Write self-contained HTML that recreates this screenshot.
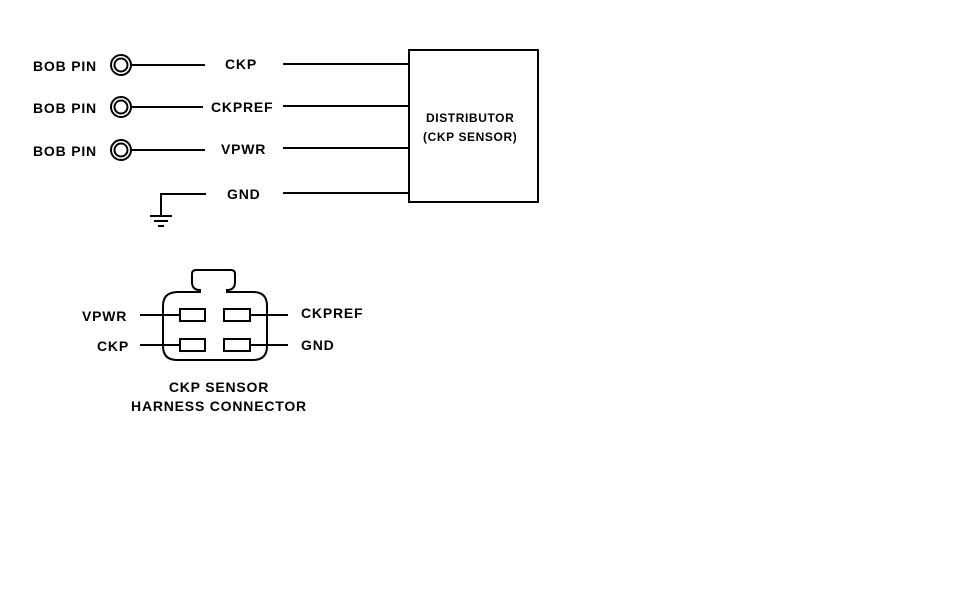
<!DOCTYPE html>
<html><head><style>body{margin:0;background:#fff}svg{display:block}</style></head><body>
<svg width="962" height="612" viewBox="0 0 962 612" xmlns="http://www.w3.org/2000/svg" font-family="Liberation Sans, sans-serif" font-weight="bold" font-size="13" fill="#000">
<g stroke="#000" stroke-width="2" fill="none">
<rect x="409" y="50" width="129" height="152"/>
<circle cx="121" cy="65" r="10"/><circle cx="121" cy="65" r="6.5"/>
<circle cx="121" cy="107" r="10"/><circle cx="121" cy="107" r="6.5"/>
<circle cx="121" cy="150" r="10"/><circle cx="121" cy="150" r="6.5"/>
<line x1="131" y1="65" x2="205" y2="65"/><line x1="283" y1="64" x2="409" y2="64"/>
<line x1="131" y1="107" x2="203" y2="107"/><line x1="283" y1="106" x2="409" y2="106"/>
<line x1="131" y1="150" x2="205" y2="150"/><line x1="283" y1="148" x2="409" y2="148"/>
<polyline points="206,194 161,194 161,216"/><line x1="283" y1="193" x2="409" y2="193"/>
<line x1="150" y1="216" x2="172" y2="216"/><line x1="154" y1="221" x2="168" y2="221"/><line x1="158" y1="226" x2="164" y2="226"/>
<path d="M178,292 H200 V290 Q192,290 192,282 V274 Q192,270 196,270 H231 Q235,270 235,274 V282 Q235,290 227,290 V292 H253 Q267,292 267,306 V346 Q267,360 253,360 H177 Q163,360 163,346 V306 Q163,292 178,292 Z"/>
<rect x="180" y="309" width="25" height="12"/><rect x="224" y="309" width="26" height="12"/>
<rect x="180" y="339" width="25" height="12"/><rect x="224" y="339" width="26" height="12"/>
<line x1="140" y1="315" x2="180" y2="315"/><line x1="140" y1="345" x2="180" y2="345"/>
<line x1="250" y1="315" x2="288" y2="315"/><line x1="250" y1="345" x2="288" y2="345"/>
</g>
<g font-size="14" letter-spacing="0.8">
<text x="33" y="71">BOB PIN</text><text x="33" y="113">BOB PIN</text><text x="33" y="156">BOB PIN</text>
<text x="225" y="69">CKP</text><text x="211" y="112">CKPREF</text><text x="221" y="154">VPWR</text><text x="227" y="199">GND</text>
<text x="426" y="122" font-size="12" letter-spacing="0.6">DISTRIBUTOR</text><text x="423" y="141" font-size="12" letter-spacing="0.6">(CKP SENSOR)</text>
<text x="82" y="321">VPWR</text><text x="97" y="351">CKP</text>
<text x="301" y="318">CKPREF</text><text x="301" y="350">GND</text>
<text x="219" y="392" text-anchor="middle">CKP SENSOR</text><text x="219" y="411" text-anchor="middle">HARNESS CONNECTOR</text>
</g>
</svg>
</body></html>
